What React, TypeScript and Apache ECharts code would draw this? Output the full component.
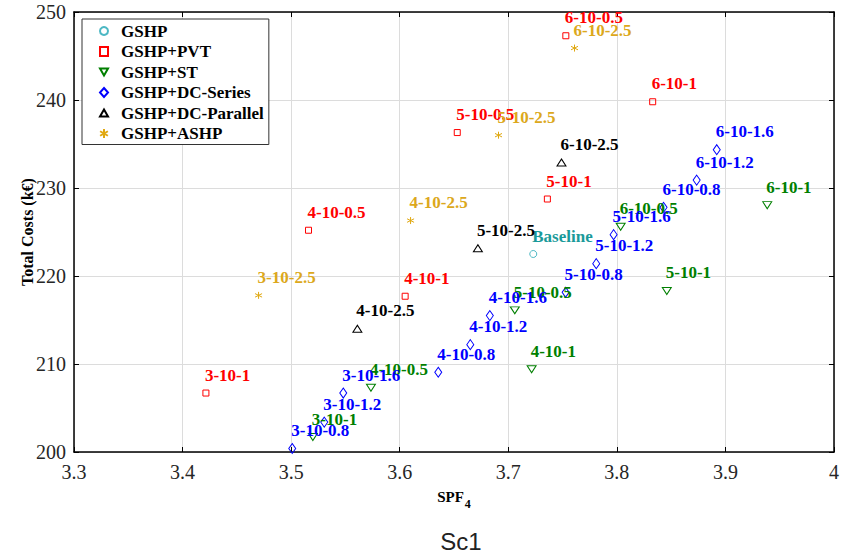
import React, { useEffect, useRef } from "react";
import * as echarts from "echarts";

const gshpX = [3.723];
const gshpY = [222.5];
const gshpLabels = ["Baseline"];

const pvtLabels = ["3-10-1", "4-10-0.5", "4-10-1", "5-10-0.5", "5-10-1", "6-10-0.5", "6-10-1"];
const pvtX = [3.4215, 3.516, 3.605, 3.653, 3.736, 3.753, 3.833];
const pvtY = [206.7, 225.2, 217.7, 236.3, 228.75, 247.3, 239.8];

const stLabels = ["3-10-1", "4-10-0.5", "4-10-1", "5-10-0.5", "5-10-1", "6-10-0.5", "6-10-1"];
const stX = [3.52, 3.5735, 3.7215, 3.706, 3.846, 3.8035, 3.9385];
const stY = [201.7, 207.3, 209.4, 216.1, 218.3, 225.6, 228.05];

const seriesLabels = ["3-10-0.8", "3-10-1.2", "3-10-1.6", "4-10-0.8", "4-10-1.2", "4-10-1.6", "5-10-0.8", "5-10-1.2", "5-10-1.6", "6-10-0.8", "6-10-1.2", "6-10-1.6"];
const seriesX = [3.501, 3.5305, 3.548, 3.6355, 3.665, 3.683, 3.7528, 3.781, 3.797, 3.843, 3.8735, 3.892];
const seriesY = [200.4, 203.4, 206.7, 209.06, 212.2, 215.5, 218.15, 221.4, 224.7, 227.8, 230.9, 234.35];

const parLabels = ["4-10-2.5", "5-10-2.5", "6-10-2.5"];
const parX = [3.561, 3.672, 3.749];
const parY = [214.0, 223.15, 232.9];

const ashpLabels = ["3-10-2.5", "4-10-2.5", "5-10-2.5", "6-10-2.5"];
const ashpX = [3.47, 3.61, 3.691, 3.761];
const ashpY = [217.8, 226.3, 236.0, 245.9];

const xTicks = { min: 3.3, max: 4, interval: 0.1 };
const yTicks = { min: 200, max: 250, interval: 10 };

const SERIF = "'Liberation Serif', 'Times New Roman', serif";
const ASTERISK = "path://M5,0L5,10M0.67,2.5L9.33,7.5M0.67,7.5L9.33,2.5";
const TRI_DOWN = "path://M0,0L10,0L5,8.66Z";
const TRI_UP = "path://M5,0L10,8.66L0,8.66Z";

function pts(xs: number[], ys: number[], names: string[]) {
  return xs.map((x, i) => [x, ys[i], names[i]]);
}

function mk(name: string, data: any[], symbol: string, size: any, color: string, labelColor: string) {
  return {
    name,
    type: "scatter",
    data,
    symbol,
    symbolSize: size,
    itemStyle: { color: "rgba(0,0,0,0)", borderColor: color, borderWidth: 1, opacity: 1 },
    label: {
      show: true,
      position: "inside",
      align: "left",
      verticalAlign: "middle",
      offset: [-1, -18],
      formatter: (p: any) => p.data[2],
      color: labelColor,
      opacity: 1,
      textBorderWidth: 0,
      textBorderColor: "transparent",
      textShadowBlur: 0,
      fontFamily: SERIF,
      fontWeight: "bold",
      fontSize: 17,
    },
    emphasis: { disabled: true },
    z: 3,
  };
}

export default function App() {
  const ref = useRef<HTMLDivElement>(null);
  useEffect(() => {
    if (!ref.current) return;
    const chart = echarts.init(ref.current, undefined, { renderer: "svg" });
    const axisCommon = {
      type: "value",
      axisLine: { show: true, lineStyle: { color: "#000", width: 1.5 } },
      axisTick: { show: true, inside: true, length: 5, lineStyle: { color: "#000", width: 1 } },
    };
    chart.setOption({
      animation: false,
      backgroundColor: "#fff",
      grid: { left: 74, right: 13, top: 12, bottom: 105, containLabel: false },
      title: {
        text: "Sc1",
        left: 456,
        top: 524,
        textAlign: "center",
        textStyle: { fontFamily: "'Liberation Sans', Arial, sans-serif", fontSize: 24, fontWeight: "normal", color: "#222" },
      },
      legend: {
        left: 82,
        top: 19,
        orient: "vertical",
        padding: [2, 5, 1, 17],
        itemGap: 0.5,
        itemWidth: 8,
        itemHeight: 9,
        backgroundColor: "#fff",
        borderColor: "#333",
        borderWidth: 1,
        borderRadius: 0,
        textStyle: { fontFamily: SERIF, fontWeight: "bold", fontSize: 17, color: "#000", lineHeight: 20, padding: [0, 0, 0, 8] },
        data: ["GSHP", "GSHP+PVT", "GSHP+ST", "GSHP+DC-Series", "GSHP+DC-Parallel", "GSHP+ASHP"],
      },
      xAxis: [
        {
          ...axisCommon,
          ...xTicks,
          position: "bottom",
          name: "{a|SPF}{b|4}",
          nameLocation: "middle",
          nameGap: 37,
          nameMoveOverlap: false,
          nameTextStyle: {
            rich: {
              a: { fontFamily: SERIF, fontWeight: "bold", fontSize: 15, color: "#000", verticalAlign: "top", lineHeight: 18 },
              b: { fontFamily: SERIF, fontWeight: "bold", fontSize: 12, color: "#000", verticalAlign: "top", lineHeight: 14, padding: [9, 0, 0, 1] },
            },
          },
          axisLabel: {
            margin: 10,
            fontFamily: SERIF,
            fontSize: 20,
            color: "#262626",
            formatter: (v: number) => String(Number(v.toFixed(1))),
          },
          splitLine: { show: true, lineStyle: { color: "#dcdcdc", width: 1 } },
        },
        {
          ...axisCommon,
          ...xTicks,
          position: "top",
          axisLabel: { show: false },
          splitLine: { show: false },
        },
      ],
      yAxis: [
        {
          ...axisCommon,
          ...yTicks,
          position: "left",
          name: "Total Costs (k€)",
          nameLocation: "middle",
          nameGap: 39,
          nameMoveOverlap: false,
          nameTextStyle: { fontFamily: SERIF, fontWeight: "bold", fontSize: 16, color: "#000" },
          axisLabel: { margin: 8, fontFamily: SERIF, fontSize: 20, color: "#262626" },
          splitLine: { show: true, lineStyle: { color: "#dcdcdc", width: 1 } },
        },
        {
          ...axisCommon,
          ...yTicks,
          position: "right",
          axisLabel: { show: false },
          splitLine: { show: false },
        },
      ],
      series: [
        mk("GSHP", pts(gshpX, gshpY, gshpLabels), "circle", 7, "#4db8c4", "#1a9a9a"),
        mk("GSHP+PVT", pts(pvtX, pvtY, pvtLabels), "rect", 6, "#ff0000", "#ff0000"),
        mk("GSHP+ST", pts(stX, stY, stLabels), TRI_DOWN, [9, 7], "#007f00", "#007f00"),
        mk("GSHP+DC-Series", pts(seriesX, seriesY, seriesLabels), "diamond", [7, 10], "#0000ff", "#0000ff"),
        mk("GSHP+DC-Parallel", pts(parX, parY, parLabels), TRI_UP, [9, 7], "#000000", "#000000"),
        mk("GSHP+ASHP", pts(ashpX, ashpY, ashpLabels), ASTERISK, 7, "#e0a810", "#dca81c"),
      ],
    });
    return () => chart.dispose();
  }, []);
  return <div ref={ref} style={{ position: "fixed", left: 0, top: 0, width: 847, height: 557 }} />;
}
